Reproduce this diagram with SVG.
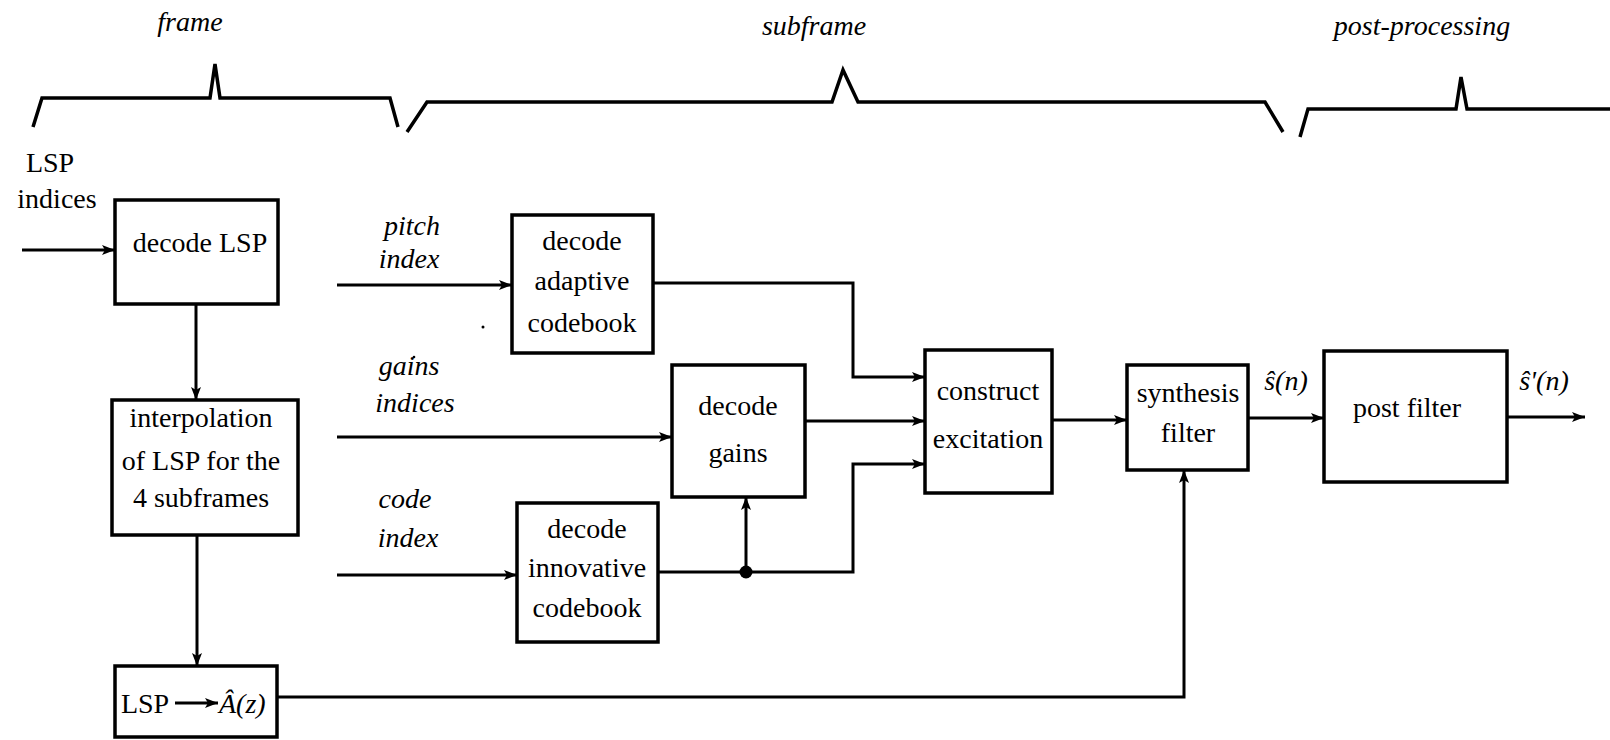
<svg xmlns="http://www.w3.org/2000/svg" width="1610" height="740" viewBox="0 0 1610 740">
<style>
.box{fill:#fff;stroke:#000;stroke-width:3.5}
.t{font-family:'Liberation Serif','DejaVu Serif',serif;font-size:28px;fill:#000;text-anchor:middle}
.i{font-style:italic}
.ln{fill:none;stroke:#000;stroke-width:3}
.br{fill:none;stroke:#000;stroke-width:3.5;stroke-linejoin:miter}
</style>
<defs>
<marker id="ah" markerUnits="userSpaceOnUse" markerWidth="14" markerHeight="10" refX="13" refY="5" orient="auto">
<path d="M0,0 L13,5 L0,10 L3,5 z" fill="#000"/>
</marker>
</defs>
<rect width="1610" height="740" fill="#fff"/>
<g id="braces">
<polyline class="br" points="33,127 42,98 210,98 215,64 220,98 390,98 398,127"/>
<polyline class="br" points="407,132 427,102 832,102 843,70 858,102 1265,102 1283,132"/>
<polyline class="br" points="1300,137 1308,109 1456,109 1461,77 1467,109 1610,109"/>
<text class="t i" x="190" y="31" font-family="Liberation Serif">frame</text>
<text class="t i" x="814" y="35" font-family="Liberation Serif">subframe</text>
<text class="t i" x="1422" y="35" font-family="Liberation Serif">post-processing</text>
</g>
<g id="input-labels">
<text class="t" x="50" y="172" font-family="Liberation Serif">LSP</text>
<text class="t" x="57" y="208" font-family="Liberation Serif">indices</text>
<text class="t i" x="412" y="235" font-family="Liberation Serif">pitch</text>
<text class="t i" x="409" y="268" font-family="Liberation Serif">index</text>
<text class="t i" x="409" y="375" font-family="Liberation Serif">gains</text>
<text class="t i" x="415" y="412" font-family="Liberation Serif">indices</text>
<text class="t i" x="405" y="508" font-family="Liberation Serif">code</text>
<text class="t i" x="408" y="547" font-family="Liberation Serif">index</text>
<circle cx="483" cy="327" r="1.5" fill="#000"/>
<circle cx="414" cy="357" r="1.3" fill="#000"/>
</g>
<g id="connectors">
<path class="ln" d="M22,250 H115" marker-end="url(#ah)"/>
<path class="ln" d="M196,304 V400" marker-end="url(#ah)"/>
<path class="ln" d="M197,535 V666" marker-end="url(#ah)"/>
<path class="ln" d="M277,697 H1184 V470" marker-end="url(#ah)"/>
<path class="ln" d="M337,285 H512" marker-end="url(#ah)"/>
<path class="ln" d="M337,437 H672" marker-end="url(#ah)"/>
<path class="ln" d="M337,575 H517" marker-end="url(#ah)"/>
<path class="ln" d="M653,283 H853 V377 H925" marker-end="url(#ah)"/>
<path class="ln" d="M805,421 H925" marker-end="url(#ah)"/>
<path class="ln" d="M658,572 H853 V464 H925" marker-end="url(#ah)"/>
<path class="ln" d="M746,572 V497" marker-end="url(#ah)"/>
<circle cx="746" cy="572" r="6.5" fill="#000"/>
<path class="ln" d="M1052,420 H1127" marker-end="url(#ah)"/>
<path class="ln" d="M1248,418 H1324" marker-end="url(#ah)"/>
<path class="ln" d="M1507,417 H1585" marker-end="url(#ah)"/>
<text class="t i" x="1286" y="390" font-family="Liberation Serif">ŝ(n)</text>
<text class="t i" x="1544" y="390" font-family="Liberation Serif">ŝ'(n)</text>
</g>
<g id="decode-lsp">
<rect class="box" x="115" y="200" width="163" height="104"/>
<text class="t" x="200" y="252" font-family="Liberation Serif">decode LSP</text>
</g>
<g id="interpolation">
<rect class="box" x="112" y="400" width="186" height="135"/>
<text class="t" x="201" y="427" font-family="Liberation Serif">interpolation</text>
<text class="t" x="201" y="470" font-family="Liberation Serif">of LSP for the</text>
<text class="t" x="201" y="507" font-family="Liberation Serif">4 subframes</text>
</g>
<g id="lsp-to-a">
<rect class="box" x="115" y="666" width="162" height="71"/>
<text class="t" x="145" y="713" font-family="Liberation Serif">LSP</text>
<path class="ln" d="M175,703 H218" marker-end="url(#ah)"/>
<text class="t i" x="219" y="713" style="text-anchor:start" font-family="Liberation Serif">Â(z)</text>
</g>
<g id="decode-adaptive">
<rect class="box" x="512" y="215" width="141" height="138"/>
<text class="t" x="582" y="250" font-family="Liberation Serif">decode</text>
<text class="t" x="582" y="290" font-family="Liberation Serif">adaptive</text>
<text class="t" x="582" y="332" font-family="Liberation Serif">codebook</text>
</g>
<g id="decode-gains">
<rect class="box" x="672" y="365" width="133" height="132"/>
<text class="t" x="738" y="415" font-family="Liberation Serif">decode</text>
<text class="t" x="738" y="462" font-family="Liberation Serif">gains</text>
</g>
<g id="decode-innovative">
<rect class="box" x="517" y="503" width="141" height="139"/>
<text class="t" x="587" y="538" font-family="Liberation Serif">decode</text>
<text class="t" x="587" y="577" font-family="Liberation Serif">innovative</text>
<text class="t" x="587" y="617" font-family="Liberation Serif">codebook</text>
</g>
<g id="construct-excitation">
<rect class="box" x="925" y="350" width="127" height="143"/>
<text class="t" x="988" y="400" font-family="Liberation Serif">construct</text>
<text class="t" x="988" y="448" font-family="Liberation Serif">excitation</text>
</g>
<g id="synthesis-filter">
<rect class="box" x="1127" y="365" width="121" height="105"/>
<text class="t" x="1188" y="402" font-family="Liberation Serif">synthesis</text>
<text class="t" x="1188" y="442" font-family="Liberation Serif">filter</text>
</g>
<g id="post-filter">
<rect class="box" x="1324" y="351" width="183" height="131"/>
<text class="t" x="1407" y="417" font-family="Liberation Serif">post filter</text>
</g>
</svg>
